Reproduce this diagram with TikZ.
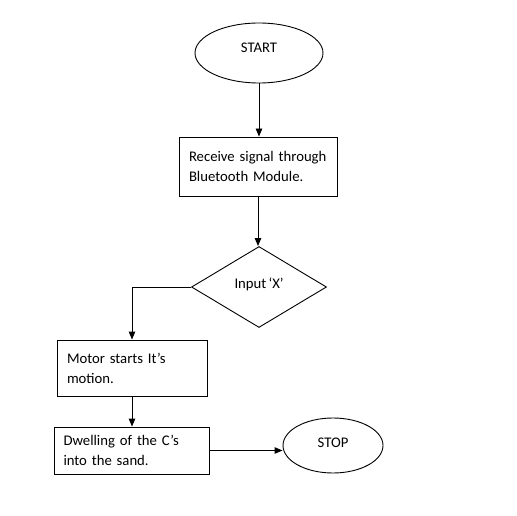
\documentclass[tikz,border=0pt]{standalone}
\usepackage{fontspec}
\setmainfont{Carlito}
\usetikzlibrary{shapes.geometric,arrows.meta}

\newcommand{\policenoeud}{\fontsize{14.7}{20}\selectfont\spaceskip=2.3pt plus 1pt minus 0.5pt\relax}
\newcommand{\hausse}[2]{\raisebox{#1}{\parbox[c]{\linewidth}{\raggedright #2}}}

\begin{document}
\begin{tikzpicture}[x=1pt,y=-1pt]
\tikzset{every node/.style={font=\policenoeud},
         termnoeud/.style={draw, ellipse, line width=0.9pt},
         boitenoeud/.style={draw, rectangle, line width=0.9pt, align=left, inner ysep=0pt},
         choixnoeud/.style={draw, diamond, line width=0.9pt, inner sep=0pt},
         fleche/.style={line width=0.9pt, -{Triangle[length=8pt,width=6.5pt]}}}
\useasboundingbox (0,0) rectangle (517,516);
\node[termnoeud, minimum width=128pt, minimum height=60pt] (S) at (259,53) {\raisebox{11pt}{START}};
\node[boitenoeud, text width=138pt, inner xsep=10pt, minimum height=59pt] (R) at (258,166.5) {\hausse{5pt}{Receive signal through\\Bluetooth Module.}};
\node[choixnoeud, minimum width=135pt, minimum height=81pt] (I) at (259,287) {\raisebox{8pt}{Input ‘X’}};
\node[boitenoeud, text width=130pt, inner xsep=10pt, minimum height=56pt] (M) at (132,368) {\hausse{5pt}{Motor starts It’s\\motion.}};
\node[boitenoeud, text width=136pt, inner xsep=9.5pt, minimum height=47pt] (D) at (131.5,450.5) {Dwelling of the C’s\\into the sand.};
\node[termnoeud, minimum width=100pt, minimum height=55pt] (E) at (333,445.5) {\raisebox{6pt}{STOP}};
\draw[fleche] (S.south) -- (S.south |- R.north);
\draw[fleche] (R.south) -- (R.south |- I.north);
\draw[fleche] (I.west) -| (M.north);
\draw[fleche] (M.south) -- (M.south |- D.north);
\draw[fleche] (D.east) -- (D.east -| E.west);
\end{tikzpicture}
\end{document}
